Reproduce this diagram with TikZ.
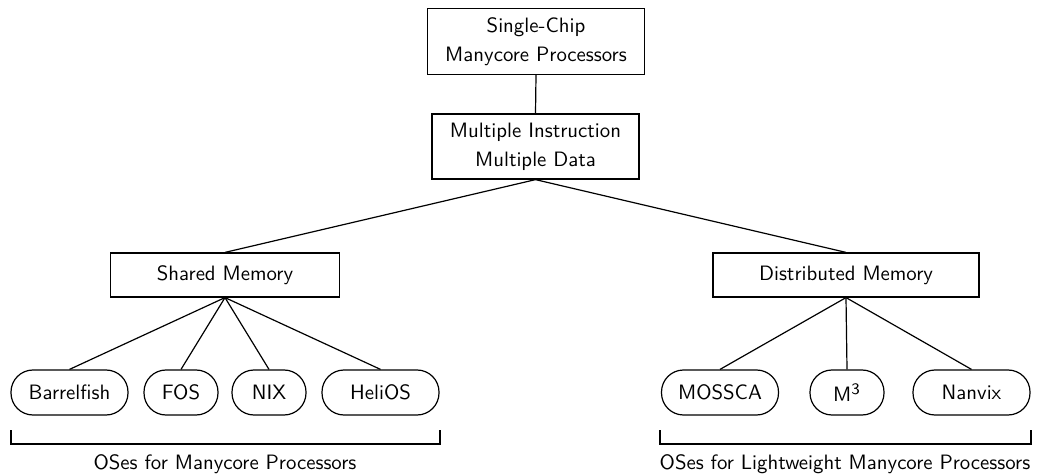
\documentclass[tikz,border=0pt]{standalone}
\usepackage{tikz}
\begin{document}
\begin{tikzpicture}[x=1pt, y=1pt, semithick]
\tikzset{every node/.style={font=\sffamily\fontsize{10.4}{14.5}\selectfont}}
\tikzset{topbox/.style={draw, align=center, inner xsep=9pt, inner ysep=4.4pt}}
\tikzset{membox/.style={draw, inner xsep=23pt, minimum height=22pt}}
\tikzset{osbox/.style={draw, rounded corners=11pt, minimum height=22.5pt, minimum width=37pt, inner xsep=2pt}}
\tikzset{wide/.style={minimum width=58.5pt}}

\useasboundingbox (0,0) rectangle (521.5,-237.5);

\node[topbox] (scmp) at (268,-20.75) {Single-Chip\\Manycore Processors};
\node[topbox] (mimd) at (267.75,-73.25) {Multiple Instruction\\Multiple Data};
\node[membox] (shared) at (112.5,-137.5) {Shared Memory};
\node[membox] (distr) at (423,-137.5) {Distributed Memory};

\node[osbox, wide] (barrelfish) at (34.75,-196.25) {Barrelfish};
\node[osbox] (fos) at (90.5,-196.25) {FOS};
\node[osbox] (nix) at (134.5,-196.25) {NIX};
\node[osbox, wide] (helios) at (190.25,-196.25) {HeliOS};
\node[osbox, wide] (mossca) at (360,-196.25) {MOSSCA};
\node[osbox] (mthree) at (423.5,-196.25) {M\textsuperscript{\footnotesize 3}};
\node[osbox, wide] (nanvix) at (485.75,-196.25) {Nanvix};

\draw (scmp.south) -- (mimd.north);
\draw (mimd.south) -- (shared.north);
\draw (mimd.south) -- (distr.north);
\foreach \os in {barrelfish,fos,nix,helios}
  \draw (shared.south) -- (\os.north);
\foreach \os in {mossca,mthree,nanvix}
  \draw (distr.south) -- (\os.north);

% brackets
\coordinate (lefttop) at (5.5,-215);
\coordinate (leftend) at (220,-215);
\coordinate (righttop) at (330,-215);
\coordinate (rightend) at (515.5,-215);
\draw (lefttop) -- ++(0,-7) -| (leftend);
\draw (righttop) -- ++(0,-7) -| (rightend);
\node[anchor=base] (manycore) at (112.5,-234.5) {OSes for Manycore Processors};
\node[anchor=base] (lightweight) at (422.5,-234.5) {OSes for Lightweight Manycore Processors};
\end{tikzpicture}
\end{document}
